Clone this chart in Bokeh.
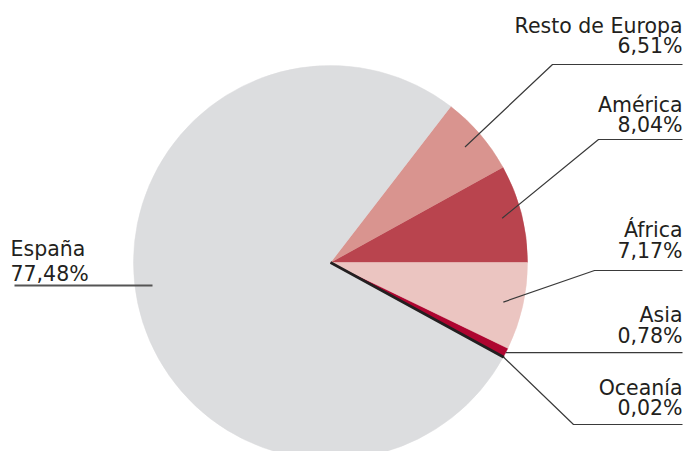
import numpy as np
from bokeh.plotting import figure
from bokeh.models import Range1d
from bokeh.core.properties import value
from bokeh.embed import file_html
from bokeh.resources import INLINE

# ---- data (counter-clockwise from the 3 o'clock direction) ----
regions = ["América", "Resto de Europa", "España", "Oceanía", "Asia", "África"]
shares = [8.04, 6.51, 77.48, 0.02, 0.78, 7.17]
colors = ["#b9444e", "#d9948f", "#dcdddf", "#231f20", "#ae0530", "#ebc5c1"]
pct_labels = [f"{s:.2f}".replace(".", ",") + "%" for s in shares]

# ---- layout (screen-pixel coordinates, y downwards is negative) ----
W, H = 685, 451
CX, CY, R = 330, -262, 197
TXT = "#231f20"
FONT = value("DejaVu Sans")
FONT_SIZE = "20.5px"
TEXT_SHIFT = 8  # compensate renderer baseline offset

# per region: text x, name baseline, pct baseline, align, leader frac, elbow x, line y, line end x
layout = {
    "Resto de Europa": (682, -33, -53, "right", 0.9, 552, -64, 682),
    "América":         (682, -112, -132, "right", 0.9, 598, -139, 682),
    "África":          (682, -237, -258, "right", 0.9, 594, -270, 682),
    "Asia":            (682, -322, -343, "right", 1.0, None, None, 682),
    "Oceanía":         (682, -395, -415, "right", 1.0, 573, -424, 682),
    "España":          (10, -256, -281, "left", None, None, None, None),
}

p = figure(width=W, height=H, output_backend="svg", toolbar_location=None,
           x_range=Range1d(0, W), y_range=Range1d(-H, 0),
           x_axis_type=None, y_axis_type=None, min_border=0)
p.outline_line_color = None
p.xgrid.visible = False
p.ygrid.visible = False
p.background_fill_color = "white"

total = sum(shares)
ends = np.cumsum(shares) / total * 2 * np.pi
starts = np.concatenate([[0.0], ends[:-1]])
mids = (starts + ends) / 2

for i, reg in enumerate(regions):
    if reg == "Oceanía":
        continue
    p.wedge(x=CX, y=CY, radius=R, start_angle=starts[i], end_angle=ends[i],
            fill_color=colors[i], line_color=colors[i], line_width=0.5)

# Oceanía: tiny slice drawn as a dark stroke
io = regions.index("Oceanía")
p.wedge(x=CX, y=CY, radius=R, start_angle=starts[io], end_angle=ends[io],
        fill_color=colors[io], line_color=colors[io], line_width=2.6)

# leader lines
for i, reg in enumerate(regions):
    tx, nb, pb, al, frac, ex, ly, lend = layout[reg]
    if frac is None:
        continue
    ix = CX + frac * R * np.cos(mids[i])
    iy = CY + frac * R * np.sin(mids[i])
    if ex is None:
        xs, ys = [ix, lend], [iy, iy]
    else:
        xs, ys = [ix, ex, lend], [iy, ly, ly]
    p.line(xs, ys, line_color="#3a3a3a", line_width=1.2)

# España underline
p.line([14, 152], [-285, -285], line_color="#555555", line_width=2)

# labels
for i, reg in enumerate(regions):
    tx, nb, pb, al, *_ = layout[reg]
    p.text(x=[tx], y=[nb + TEXT_SHIFT], text=[reg], text_align=al, text_baseline="alphabetic",
           text_font=FONT, text_font_size=FONT_SIZE, text_color=TXT)
    p.text(x=[tx], y=[pb + TEXT_SHIFT], text=[pct_labels[i]], text_align=al, text_baseline="alphabetic",
           text_font=FONT, text_font_size=FONT_SIZE, text_color=TXT)

open("out.html", "w").write(file_html(p, INLINE))
